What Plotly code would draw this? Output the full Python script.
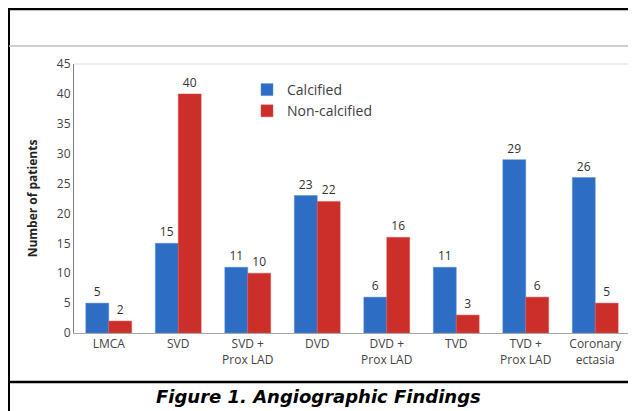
import plotly.graph_objects as go

categories = ["LMCA", "SVD", "SVD +<br>Prox LAD", "DVD", "DVD +<br>Prox LAD", "TVD", "TVD +<br>Prox LAD", "Coronary<br>ectasia"]
calcified = [5, 15, 11, 23, 6, 11, 29, 26]
non_calcified = [2, 40, 10, 22, 16, 3, 6, 5]
y_ticks = [0, 5, 10, 15, 20, 25, 30, 35, 40, 45]

# screen size and the page's default 8px body margin
SW, SH = 636, 411
OFF = 8
W, H = SW - OFF, SH - OFF
# plot area in screen pixels
L, R, T, B = 74, 630, 64, 333

def px(x):
    return (x - L) / (R - L)

def py(y):
    return (B - y) / (B - T)

fig = go.Figure()
fig.add_trace(go.Bar(
    x=categories, y=calcified, name="Calcified",
    marker=dict(color="#2D6EC4", line=dict(color="#5B8FD6", width=0.5)),
    text=calcified, textposition="outside",
    textfont=dict(size=12, color="#333333", family="Open Sans"),
    cliponaxis=False,
))
fig.add_trace(go.Bar(
    x=categories, y=non_calcified, name="Non-calcified",
    marker=dict(color="#CC2E2A", line=dict(color="#E05550", width=0.5)),
    text=non_calcified, textposition="outside",
    textfont=dict(size=12, color="#333333", family="Open Sans"),
    cliponaxis=False,
))

shapes = [
    # plot frame (light gray) top and right
    dict(type="line", xref="paper", yref="paper", x0=0, x1=1, y0=1, y1=1,
         line=dict(color="#DDDDDD", width=1), layer="below"),
    dict(type="line", xref="paper", yref="paper", x0=1, x1=1, y0=0, y1=1,
         line=dict(color="#DDDDDD", width=1), layer="below"),
    # outer black border: left, top
    dict(type="line", xref="paper", yref="paper", x0=px(8.5), x1=px(8.5), y0=py(8), y1=py(420),
         line=dict(color="#000000", width=3)),
    dict(type="line", xref="paper", yref="paper", x0=px(7), x1=px(640), y0=py(9), y1=py(9),
         line=dict(color="#000000", width=2.5)),
    # gray separator line
    dict(type="line", xref="paper", yref="paper", x0=px(9), x1=px(640), y0=py(46), y1=py(46),
         line=dict(color="#BFBFBF", width=1.5)),
    # bottom black line
    dict(type="line", xref="paper", yref="paper", x0=px(7), x1=px(640), y0=py(382), y1=py(382),
         line=dict(color="#000000", width=2.5)),
]

fig.update_layout(
    width=W, height=H,
    margin=dict(l=L - OFF, r=SW - R, t=T - OFF, b=SH - B, pad=0),
    paper_bgcolor="white", plot_bgcolor="white",
    barmode="group", bargap=0.34, bargroupgap=0,
    font=dict(family="Open Sans", size=12, color="#444444"),
    showlegend=True,
    legend=dict(x=px(247), y=py(74), xanchor="left", yanchor="top",
                font=dict(size=14, color="#404040", family="Open Sans"),
                bgcolor="rgba(0,0,0,0)", itemwidth=30, tracegroupgap=0),
    xaxis=dict(showgrid=False, showline=True, linecolor="#A6A6A6", linewidth=1,
               ticks="", tickfont=dict(size=12, color="#444444")),
    yaxis=dict(range=[0, 45], tickvals=y_ticks, showgrid=False, showline=True,
               linecolor="#808080", linewidth=1, ticks="", zeroline=False,
               tickfont=dict(size=12, color="#444444"),
               title=dict(text="<b>Number of patients</b>", font=dict(size=12, color="#222222"),
                          standoff=16)),
    shapes=shapes,
    annotations=[
        dict(text="<b><i>Figure 1. Angiographic Findings</i></b>", xref="paper", yref="paper",
             x=px(318), y=py(397), xanchor="center", yanchor="middle", showarrow=False,
             font=dict(family="DejaVu Sans", size=18, color="#000000")),
    ],
)

fig.write_html("out.html")
